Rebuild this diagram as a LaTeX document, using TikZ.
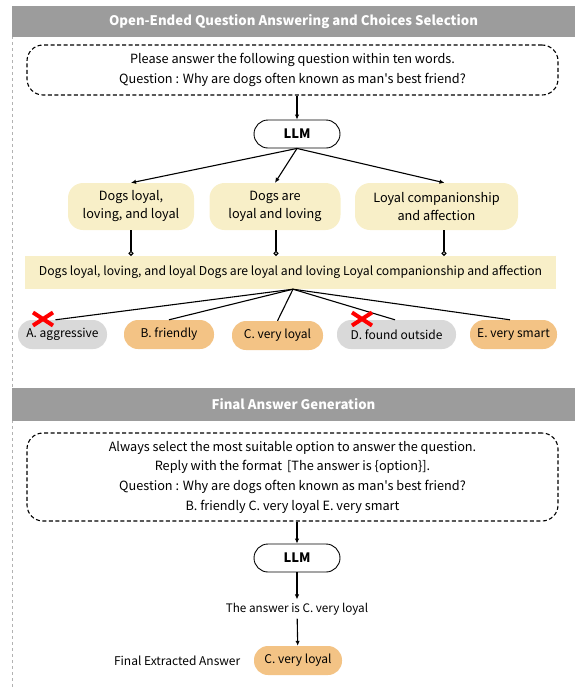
\documentclass[tikz,border=0pt]{standalone}
\usepackage{fontspec}
\setmainfont{Noto Sans CJK SC}[Ligatures=TeXOff]
\usepackage{tikz}
\usetikzlibrary{positioning,arrows.meta,calc}
\usepackage{xcolor}
\definecolor{hdrgray}{HTML}{9C9C9C}
\definecolor{ansyellow}{HTML}{F8EFC8}
\definecolor{optorange}{HTML}{F3C385}
\definecolor{optgray}{HTML}{D9D9D9}

\begin{document}
\begin{tikzpicture}[
  x=1pt, y=-1pt,
  header/.style={fill=hdrgray, text=white, font=\fontsize{13.2}{15}\selectfont\bfseries, minimum height=31pt},
  prompt/.style={draw, line width=1.1pt, dash pattern=on 4pt off 2.5pt, rounded corners=16pt, align=center, font=\fontsize{12.7}{19.7}\selectfont},
  llm/.style={draw, line width=0.9pt, rounded corners=14pt, minimum width=86pt, minimum height=28pt, font=\fontsize{13}{15}\selectfont\bfseries},
  answer/.style={fill=ansyellow, rounded corners=15pt, align=center, minimum height=47pt, font=\fontsize{12.7}{18}\selectfont},
  option/.style={rounded corners=14pt, minimum height=29pt, font=\fontsize{12}{15}\selectfont},
  edge/.style={-{Latex[length=5pt,width=4.5pt]}, line width=1.1pt},
  link/.style={line width=1.1pt},
  cross/.style={red, line width=4pt}
]
  \useasboundingbox (0,0) rectangle (575,689);
  \draw[gray!60, dashed] (12,6) -- (12,689);

  % part one
  \node[header, minimum width=563pt] (hdrA) at (293.5,21.5) {Open-Ended Question Answering and Choices Selection};
  \node[prompt, minimum width=531pt, minimum height=50pt] (promptA) at (292.5,70)
    {Please answer the following question within ten words.\\ Question : Why are dogs often known as man's best friend?};
  \node[llm] (llmA) at (297,134) {LLM};
  \node[answer, minimum width=126pt] (ansL) at (131,206.5) {Dogs loyal,\\ loving, and loyal};
  \node[answer, minimum width=131pt] (ansM) at (275,206.5) {Dogs are\\ loyal and loving};
  \node[answer, minimum width=163pt] (ansR) at (436.5,206.5) {Loyal companionship\\ and affection};
  \node[fill=ansyellow, minimum width=531pt, minimum height=33pt, font=\fontsize{12.2}{15}\selectfont] (merged) at (290.5,272.5)
    {Dogs loyal, loving, and loyal Dogs are loyal and loving Loyal companionship and affection};

  \node[option, fill=optgray, minimum width=89pt] (optA) at (62.5,334.5) {A. aggressive};
  \node[option, fill=optorange, minimum width=90pt] (optB) at (169,334.5) {B. friendly};
  \node[option, fill=optorange, minimum width=91pt] (optC) at (277.5,335.5) {C. very loyal};
  \node[option, fill=optgray, minimum width=119pt] (optD) at (396.5,334.5) {D. found outside};
  \node[option, fill=optorange, minimum width=87pt] (optE) at (513.5,334.5) {E. very smart};

  \draw[edge] (promptA.south -| llmA) -- (llmA);
  \draw[edge] (llmA.south) -- (ansL.north);
  \draw[edge] (llmA.south) -- (ansM.north);
  \draw[edge] (llmA.south) -- ($(ansR.north)+(8,0)$);
  \foreach \a/\x in {ansL/131,ansM/276,ansR/444}
    \draw[link, -{Circle[open,length=5pt]}] (\x,0 |- \a.south) -- (\x,0 |- merged.north);

  \coordinate (fan) at ($(merged.south)+(2.5,0)$);
  \draw[link] (fan) -- ($(optA.north)+(-7,0)$);
  \draw[link] (fan) -- (optB.north);
  \draw[link] (fan) -- (optC.north);
  \draw[link] (fan) -- ($(optD.north)+(-1.5,0)$);
  \draw[link] (fan) -- ($(optE.north)+(-3.5,0)$);

  % wrong choices
  \foreach \cx in {43,362}
    \draw[cross] (\cx-10,312.5) -- (\cx+10,325.5) (\cx-10,325.5) -- (\cx+10,312.5);

  % part two
  \node[header, minimum width=563pt, minimum height=33pt] (hdrB) at (293.5,404.5) {Final Answer Generation};
  \node[prompt, minimum width=531pt, minimum height=88pt] (promptB) at (292.5,477)
    {Always select the most suitable option to answer the question.\\
     Reply with the format\, [The answer is \{option\}].\\
     Question : Why are dogs often known as man's best friend?\\
     B. friendly C. very loyal E. very smart};
  \node[llm] (llmB) at (297,558) {LLM};
  \node[font=\fontsize{11.7}{15}\selectfont] (reply) at (297,609) {The answer is C. very loyal};
  \node[option, fill=optorange, minimum width=88pt] (final) at (298,660.5) {C. very loyal};
  \node[font=\fontsize{12}{15}\selectfont, left=10pt of final] (finlabel) {Final Extracted Answer};

  \draw[edge] (promptB.south -| llmB) -- (llmB);
  \draw[edge] (llmB) -- (reply);
  \draw[edge] (reply) -- (final);
\end{tikzpicture}
\end{document}
